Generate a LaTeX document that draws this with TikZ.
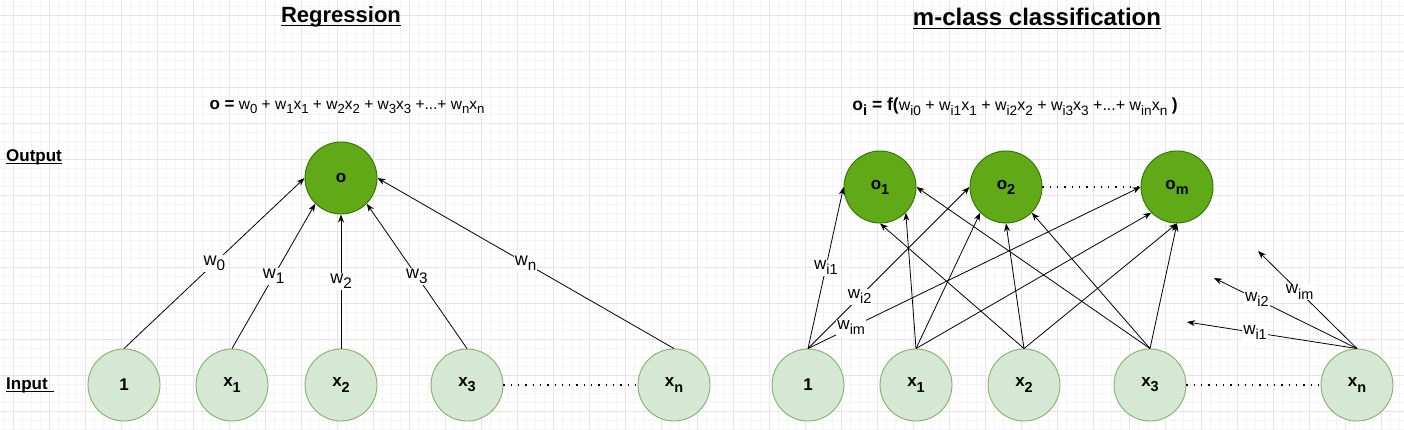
\documentclass[tikz,border=0pt]{standalone}
\usepackage{fontspec}
\setmainfont{Liberation Sans}
\usetikzlibrary{arrows.meta}
\definecolor{outfill}{HTML}{60A917}
\definecolor{outline}{HTML}{2D7600}
\definecolor{infill}{HTML}{D5E8D4}
\definecolor{inline}{HTML}{82B366}
\definecolor{gridmaj}{HTML}{E4E4E4}
\definecolor{gridmin}{HTML}{F4F4F4}
\newcommand\sbx[1]{\raisebox{-0.3em}{\scalebox{0.85}{#1}}}
\begin{document}
\begin{tikzpicture}[x=1pt,y=-1pt,
 outnode/.style={circle,draw=outline,fill=outfill,line width=0.9pt,minimum size=72pt,inner sep=0pt,font=\fontsize{17}{20}\selectfont\bfseries},
 innode/.style={circle,draw=inline,fill=infill,line width=0.9pt,minimum size=72pt,inner sep=0pt,font=\fontsize{17}{20}\selectfont\bfseries},
 conn/.style={draw=black,line width=0.8pt,-{Stealth[length=8pt,width=6pt,inset=2.5pt]}},
 dots/.style={draw=black,line width=1.3pt,dash pattern=on 1.3pt off 6pt},
 wlab/.style={fill=white,inner sep=1pt,font=\fontsize{18}{21}\selectfont},
 rlab/.style={fill=white,inner sep=1pt,font=\fontsize{17}{20}\selectfont},
 titletext/.style={inner sep=0pt,font=\fontsize{22}{26}\selectfont\bfseries},
 formula/.style={inner sep=0pt,font=\fontsize{15.5}{18}\selectfont},
 sidetext/.style={inner sep=0pt,anchor=west,font=\fontsize{17}{20}\selectfont\bfseries},
 ulin/.style={line width=1.6pt}
]
\useasboundingbox (0,0) rectangle (1404,430);
\fill[white] (0,0) rectangle (1404,430);
\foreach \x in {4,13,...,1404} \draw[gridmin,line width=0.6pt] (\x,0) -- (\x,430);
\foreach \y in {6,15,...,430} \draw[gridmin,line width=0.6pt] (0,\y) -- (1404,\y);
\foreach \x in {13,49,...,1404} \draw[gridmaj,line width=0.7pt] (\x,0) -- (\x,430);
\foreach \y in {15,51,...,430} \draw[gridmaj,line width=0.7pt] (0,\y) -- (1404,\y);

% titles
\node[titletext] (t1) at (341,17) {Regression};
\draw[ulin] ([yshift=-3pt]t1.base west) -- ([yshift=-3pt]t1.base east);
\node[titletext,font=\fontsize{24}{28}\selectfont\bfseries] (t2) at (1037,17) {m-class classification};
\draw[ulin] ([yshift=-3pt]t2.base west) -- ([yshift=-3pt]t2.base east);

\node[sidetext] (sout) at (6,157) {Output};
\draw[line width=1.3pt] ([yshift=-2.5pt]sout.base west) -- ([yshift=-2.5pt]sout.base east);
\node[sidetext] (sin) at (6,385) {Input};
\draw[line width=1.3pt] ([yshift=-2.5pt]sin.base west) -- ([yshift=-2.5pt,xshift=6pt]sin.base east);

% formulas
\node[formula] (f1) at (347,107) {{\bfseries\fontsize{17}{20}\selectfont o =} w\sbx{0} + w\sbx{1}x\sbx{1} + w\sbx{2}x\sbx{2} + w\sbx{3}x\sbx{3} +...+ w\sbx{n}x\sbx{n}};
\node[formula,font=\fontsize{16}{19}\selectfont] (f2) at (1015,107) {{\bfseries\fontsize{17.5}{20}\selectfont o\sbx{i} = f(}w\sbx{i0} + w\sbx{i1}x\sbx{1} + w\sbx{i2}x\sbx{2} + w\sbx{i3}x\sbx{3} +...+ w\sbx{in}x\sbx{n} {\bfseries\fontsize{17.5}{20}\selectfont)}};

% left network
\node[outnode] (o) at (341,178) {o};
\node[innode] (i0) at (124,385) {1};
\node[innode] (i1) at (232,385) {x\sbx{1}};
\node[innode] (i2) at (341,385) {x\sbx{2}};
\node[innode] (i3) at (467,385) {x\sbx{3}};
\node[innode] (in) at (674,385) {x\sbx{n}};

\draw[conn] (i0.north) -- node[wlab]{w\sbx{0}} (o.west);
\draw[conn] (i1.north) -- node[wlab]{w\sbx{1}} (o.south west);
\draw[conn] (i2.north) -- node[wlab]{w\sbx{2}} (o.south);
\draw[conn] (i3.north) -- node[wlab]{w\sbx{3}} (o.south east);
\draw[conn] (in.north) -- node[wlab]{w\sbx{n}} (o.east);
\draw[dots] (i3.east) -- (in.west);

% right network
\node[outnode] (p1) at (880,187) {o\sbx{1}};
\node[outnode] (p2) at (1006,187) {o\sbx{2}};
\node[outnode] (pm) at (1177,187) {o\sbx{m}};
\node[innode] (r0) at (808,385) {1};
\node[innode] (r1) at (916,385) {x\sbx{1}};
\node[innode] (r2) at (1024,385) {x\sbx{2}};
\node[innode] (r3) at (1150,385) {x\sbx{3}};
\node[innode] (rn) at (1357,385) {x\sbx{n}};

\draw[dots] (p2.east) -- (pm.west);
\draw[dots] (r3.east) -- (rn.west);

\draw[conn] (r1.north) -- (p1.south east);
\draw[conn] (r1.north) -- (p2.south west);
\draw[conn] (r1.north) -- (pm.south west);
\draw[conn] (r2.north) -- (p1.south);
\draw[conn] (r2.north) -- (p2.south);
\draw[conn] (r2.north) -- (pm.south);
\draw[conn] (r3.north) -- (p1.east);
\draw[conn] (r3.north) -- (p2.south east);
\draw[conn] (r3.north) -- (pm.south);
\draw[conn] (r0.north) -- node[rlab,pos=0.5]{w\sbx{i1}} (p1.west);
\draw[conn] (r0.north) -- node[rlab,pos=0.32]{w\sbx{i2}} (p2.west);
\draw[conn] (r0.north) -- node[rlab,pos=0.13]{w\sbx{im}} (pm.west);

\coordinate (e1) at (1187,322);
\coordinate (e2) at (1214,278);
\coordinate (e3) at (1258,251);
\draw[conn] (rn.north) -- node[rlab,pos=0.6]{w\sbx{i1}} (e1);
\draw[conn] (rn.north) -- node[rlab,pos=0.7]{w\sbx{i2}} (e2);
\draw[conn] (rn.north) -- node[rlab,pos=0.58]{w\sbx{im}} (e3);
\end{tikzpicture}
\end{document}
